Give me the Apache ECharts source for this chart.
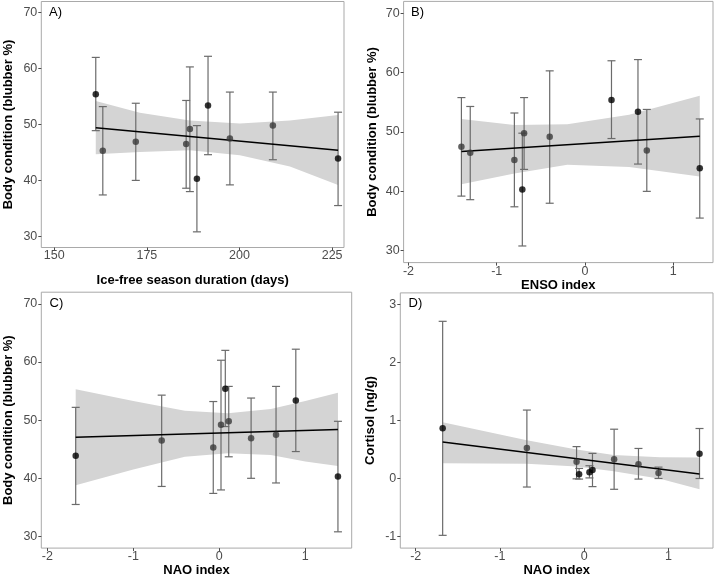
<!DOCTYPE html>
<html>
<head>
<meta charset="utf-8">
<script src="https://cdn.jsdelivr.net/npm/echarts@6/dist/echarts.min.js"></script>
<style>
html,body{margin:0;padding:0;background:#fff;}
#chart{width:719px;height:578px;}
</style>
</head>
<body>
<div id="chart"></div>
<script>
// ---- shared body-condition observations (panels A-C) ----
const bodyCond = [55.4, 45.3, 46.9, 46.5, 49.2, 40.3, 53.4, 47.5, 49.8, 43.9];
const bodyLo   = [48.9, 37.4, 40.0, 38.6, 38.0, 30.8, 44.6, 39.2, 43.7, 35.5];
const bodyHi   = [62.0, 53.2, 53.8, 54.3, 60.3, 49.8, 62.2, 55.8, 55.8, 52.2];
const bodyGroup = [1, 0, 0, 0, 0, 1, 1, 0, 0, 1];

// x predictors
const iceFreeDays = [161.2, 163.1, 172.0, 185.6, 186.6, 188.5, 191.5, 197.4, 209.0, 226.6];
const ensoIndex   = [0.30, -0.80, 0.70, -1.30, -0.40, -0.71, 0.60, -1.40, -0.69, 1.30];
const naoIndex    = [0.07, -0.07, 0.37, -0.67, 0.02, 1.38, 0.89, 0.66, 0.11, -1.67];

// panel D: cortisol
const naoD      = [-1.68, -0.68, -0.09, -0.06, 0.063, 0.099, 0.356, 0.645, 0.883, 1.37];
const cortisol  = [0.867, 0.524, 0.287, 0.073, 0.106, 0.146, 0.332, 0.247, 0.095, 0.428];
const cortLo    = [-0.98, -0.147, -0.006, -0.01, 0.01, -0.14, -0.186, -0.01, 0.0, 0.0];
const cortHi    = [2.71, 1.18, 0.55, 0.174, 0.22, 0.433, 0.85, 0.518, 0.196, 0.862];
const cortGroup = [1, 0, 0, 1, 1, 1, 0, 0, 0, 1];

// fitted lines (end points)
const fitA = {x: [161.2, 226.6], y: [49.4, 45.4]};
const fitB = {x: [-1.4, 1.3], y: [46.7, 49.3]};
const fitC = {x: [-1.67, 1.38], y: [47.05, 48.4]};
const fitD = {x: [-1.68, 1.37], y: [0.63, 0.078]};

// confidence bands
const bandAx = [161.2, 173.1, 186.6, 200.1, 213.6, 226.6];
const bandAlo = [44.7, 45.1, 45.4, 44.5, 42.5, 39.2];
const bandAhi = [54.2, 52.1, 50.7, 50.2, 50.7, 51.7];
const bandBx = [-1.4, -0.8, -0.2, 0.5, 1.3];
const bandBlo = [41.2, 43.0, 44.5, 44.1, 42.5];
const bandBhi = [52.2, 51.2, 51.3, 52.9, 56.1];
const bandCx = [-1.67, -1.0, -0.4, 0.1, 0.6, 1.0, 1.38];
const bandClo = [38.8, 41.5, 43.7, 44.3, 44.0, 42.9, 42.1];
const bandChi = [55.3, 53.3, 51.6, 51.2, 51.9, 53.3, 54.7];
const bandDx = [-1.68, -0.68, -0.09, 0.35, 0.90, 1.37];
const bandDlo = [0.264, 0.255, 0.208, 0.123, -0.006, -0.186];
const bandDhi = [0.97, 0.66, 0.50, 0.405, 0.365, 0.36];

// tick labels
const ticksDays = [150, 175, 200, 225];
const ticksIndex = [-2, -1, 0, 1];
const ticksBody = [30, 40, 50, 60, 70];
const ticksCort = [-1, 0, 1, 2, 3];

const FONT = 'Liberation Sans, Arial, Helvetica, sans-serif';

const panels = [
  {label: 'A)', grid: {left: 41.3, top: 1.5, width: 302.7, height: 246},
   xr: [146.5, 228.2], yr: [28, 72], xt: ticksDays, yt: ticksBody,
   xname: 'Ice-free season duration (days)', yname: 'Body condition (blubber %)', xgap: 26, ygap: 26,
   x: iceFreeDays, y: bodyCond, lo: bodyLo, hi: bodyHi, g: bodyGroup,
   fit: fitA, bx: bandAx, blo: bandAlo, bhi: bandAhi, lab: [49, 13.5]},
  {label: 'B)', grid: {left: 403.6, top: 1.4, width: 309.4, height: 261.2},
   xr: [-2.055, 1.45], yr: [28, 72], xt: ticksIndex, yt: ticksBody,
   xname: 'ENSO index', yname: 'Body condition (blubber %)', xgap: 12, ygap: 25,
   x: ensoIndex, y: bodyCond, lo: bodyLo, hi: bodyHi, g: bodyGroup,
   fit: fitB, bx: bandBx, blo: bandBlo, bhi: bandBhi, lab: [411, 13.5]},
  {label: 'C)', grid: {left: 41.3, top: 292.2, width: 310.4, height: 261},
   xr: [-2.07, 1.54], yr: [28, 72], xt: ticksIndex, yt: ticksBody,
   xname: 'NAO index', yname: 'Body condition (blubber %)', xgap: 12, ygap: 26,
   x: naoIndex, y: bodyCond, lo: bodyLo, hi: bodyHi, g: bodyGroup,
   fit: fitC, bx: bandCx, blo: bandClo, bhi: bandChi, lab: [49.5, 304]},
  {label: 'D)', grid: {left: 400.3, top: 292.9, width: 312.7, height: 260.2},
   xr: [-2.183, 1.53], yr: [-1.2, 3.2], xt: ticksIndex, yt: ticksCort,
   xname: 'NAO index', yname: 'Cortisol (ng/g)', xgap: 12, ygap: 23,
   x: naoD, y: cortisol, lo: cortLo, hi: cortHi, g: cortGroup,
   fit: fitD, bx: bandDx, blo: bandDlo, bhi: bandDhi, lab: [408.5, 304]}
];

const grids = [], xAxes = [], yAxes = [], series = [], graphics = [];

panels.forEach((p, i) => {
  grids.push(Object.assign({show: true, borderColor: '#a9a9a9', borderWidth: 1, backgroundColor: '#fff', containLabel: false}, p.grid));
  const axisCommon = {
    gridIndex: i, type: 'value', nameLocation: 'middle',
    nameTextStyle: {fontFamily: FONT, fontSize: 13, fontWeight: 'bold', color: '#000'},
    axisLine: {show: false, onZero: false},
    axisTick: {show: true, length: 3, lineStyle: {color: '#4d4d4d', width: 1}},
    splitLine: {show: false},
    axisLabel: {fontFamily: FONT, fontSize: 12.5, color: '#4d4d4d'}
  };
  xAxes.push(Object.assign({}, axisCommon, {
    position: 'bottom',
    min: p.xr[0], max: p.xr[1], name: p.xname, nameGap: p.xgap,
    axisTick: Object.assign({}, axisCommon.axisTick, {customValues: p.xt}),
    axisLabel: Object.assign({}, axisCommon.axisLabel, {customValues: p.xt, margin: 2})
  }));
  yAxes.push(Object.assign({}, axisCommon, {
    position: 'left',
    min: p.yr[0], max: p.yr[1], name: p.yname, nameGap: p.ygap,
    axisTick: Object.assign({}, axisCommon.axisTick, {customValues: p.yt}),
    axisLabel: Object.assign({}, axisCommon.axisLabel, {customValues: p.yt, margin: 4})
  }));

  // confidence band
  series.push({
    type: 'custom', xAxisIndex: i, yAxisIndex: i, silent: true, z: 1,
    data: p.bx.map((v, k) => [v, p.blo[k], p.bhi[k]]),
    encode: {x: 0, y: [1, 2]},
    renderItem: (params, api) => {
      if (params.dataIndex !== 0) return {type: 'group', children: []};
      const pts = [];
      for (let k = 0; k < p.bx.length; k++) pts.push(api.coord([p.bx[k], p.bhi[k]]));
      for (let k = p.bx.length - 1; k >= 0; k--) pts.push(api.coord([p.bx[k], p.blo[k]]));
      return {type: 'polygon', shape: {points: pts}, style: {fill: '#d4d4d4', stroke: null}};
    }
  });

  // error bars
  series.push({
    type: 'custom', xAxisIndex: i, yAxisIndex: i, silent: true, z: 2,
    data: p.x.map((v, k) => [v, p.lo[k], p.hi[k]]),
    encode: {x: 0, y: [1, 2]},
    renderItem: (params, api) => {
      const a = api.coord([api.value(0), api.value(1)]);
      const b = api.coord([api.value(0), api.value(2)]);
      const w = 4;
      const st = {stroke: '#6b6b6b', lineWidth: 1.2};
      return {type: 'group', children: [
        {type: 'line', shape: {x1: a[0], y1: a[1], x2: b[0], y2: b[1]}, style: st},
        {type: 'line', shape: {x1: a[0] - w, y1: a[1], x2: a[0] + w, y2: a[1]}, style: st},
        {type: 'line', shape: {x1: b[0] - w, y1: b[1], x2: b[0] + w, y2: b[1]}, style: st}
      ]};
    }
  });

  // fitted line
  series.push({
    type: 'line', xAxisIndex: i, yAxisIndex: i, silent: true, z: 3,
    data: p.fit.x.map((v, k) => [v, p.fit.y[k]]),
    showSymbol: false, symbol: 'none',
    lineStyle: {color: '#000', width: 1.5}
  });

  // points
  series.push({
    type: 'scatter', xAxisIndex: i, yAxisIndex: i, silent: true, z: 4,
    symbolSize: 6.5,
    data: p.x.map((v, k) => ({value: [v, p.y[k]], itemStyle: {color: p.g[k] ? '#000000' : '#3a3a3a'}}))
  });

  graphics.push({
    type: 'text', left: p.lab[0], top: p.lab[1] - 7.5, silent: true,
    style: {text: p.label, fontFamily: FONT, fontSize: 13, fill: '#000'}
  });
});

const chart = echarts.init(document.getElementById('chart'), null, {renderer: 'canvas'});
chart.setOption({
  animation: false,
  backgroundColor: '#fff',
  grid: grids, xAxis: xAxes, yAxis: yAxes, series: series,
  graphic: graphics
});
</script>
</body>
</html>
